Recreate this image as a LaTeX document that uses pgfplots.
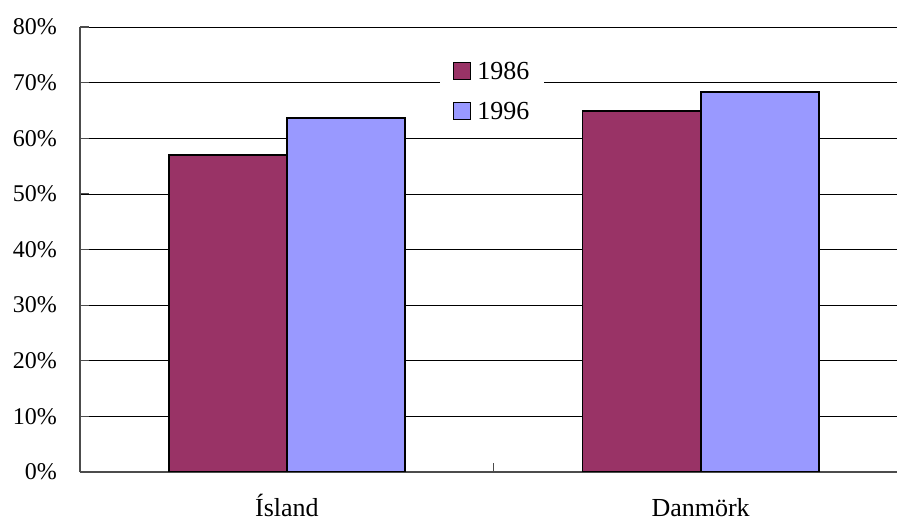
\documentclass[border=0pt]{standalone}
\usepackage{fontspec}
\setmainfont{Liberation Serif}
\usepackage{pgfplots}
\pgfplotsset{compat=1.18}
\definecolor{c86}{HTML}{993366}
\definecolor{c96}{HTML}{9999FF}
\begin{document}
\begin{tikzpicture}
\begin{axis}[
  scale only axis, width=817pt, height=445pt,
  xmin=-0.5, xmax=1.4746, ymin=0, ymax=80,
  axis lines*=left,
  ybar=0pt, bar width=0.2857,
  ytick={0,10,...,80},
  yticklabel={\pgfmathprintnumber{\tick}\%},
  /pgf/number format/assume math mode=true,
  xtick={0.5}, xticklabels={},
  extra x ticks={0,1}, extra x tick labels={Ísland, Danmörk},
  extra x tick style={tick style={draw=none}},
  ymajorgrids, grid style={black, line width=0.7pt},
  major tick length=9pt, tick align=inside,
  tick style={gray!60!black, line width=1.2pt},
  axis line style={gray!60!black, line width=1.2pt},
  yticklabel style={font=\fontsize{24}{24}\selectfont, anchor=east, inner sep=0pt, xshift=-23pt},
  xticklabel style={font=\fontsize{26}{26}\selectfont, anchor=base, inner sep=0pt, yshift=-45pt},
  legend style={at={(0.4406,0.9400)}, anchor=north west, draw=none, fill=white,
    font=\fontsize{26}{26}\selectfont, inner xsep=13pt, inner ysep=6pt,
    row sep=17pt, column sep=4pt, nodes={text height=18pt, text depth=1pt, inner sep=2pt}},
  legend cell align=left,
  legend image code/.code={\draw[#1, draw=black, line width=1.3pt] (0pt,-8pt) rectangle (17pt,9pt);},
]
\addplot[fill=c86, draw=black, line width=1.8pt] coordinates {(0,57.0) (1,64.9)};
\addplot[fill=c96, draw=black, line width=1.8pt] coordinates {(0,63.7) (1,68.3)};
\legend{1986,1996}
\end{axis}
\pgfresetboundingbox
\path[use as bounding box] (-80pt,-52pt) rectangle (817pt,472pt);
\end{tikzpicture}
\end{document}
